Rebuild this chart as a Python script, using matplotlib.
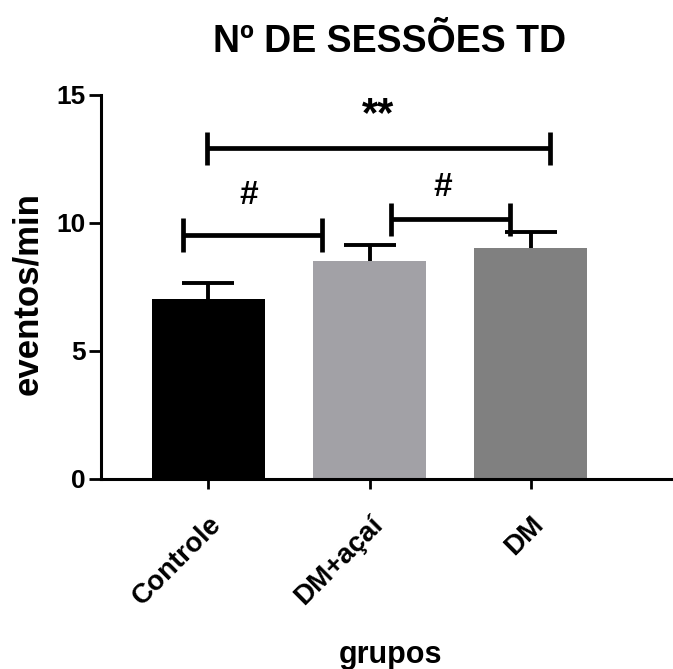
import numpy as np
import matplotlib
matplotlib.use("Agg")
from matplotlib import pyplot as plt
from matplotlib import font_manager
from matplotlib.transforms import ScaledTranslation

# dados
grupos = ["Controle", "DM+açaí", "DM"]
media = [7.03, 8.53, 9.04]
epm = [0.64, 0.61, 0.59]
cores = ["#000000", "#a2a1a6", "#808080"]

# comparações: (x inicial, x final, altura, rótulo, x do rótulo, y do rótulo)
comparacoes = [
    (-0.155, 0.707, 9.53, "#", 0.248, 11.09),
    (1.131, 1.872, 10.14, "#", 1.454, 11.39),
    (-0.01, 2.12, 12.92, "**", 1.051, 14.2),
]

nomes = {f.name for f in font_manager.fontManager.ttflist}
fonte = "Liberation Sans" if "Liberation Sans" in nomes else "DejaVu Sans"
fonte_titulo = "Liberation Sans Narrow" if "Liberation Sans Narrow" in nomes else fonte
plt.rcParams["font.family"] = [fonte, "DejaVu Sans"]
plt.rcParams["font.weight"] = "bold"

fig = plt.figure(figsize=(6.73, 6.69), dpi=100)
ax = fig.add_axes([101 / 673, 190 / 669, 1 - 101 / 673, 384 / 669])

x = np.arange(len(grupos))
ax.bar(x, media, width=0.70, color=cores, edgecolor="none", zorder=2)
eb = ax.errorbar(x, media, yerr=[np.zeros(len(epm)), epm], fmt="none",
                 ecolor="black", elinewidth=2.8, capsize=19, capthick=2.8, zorder=1)
eb[1][0].set_visible(False)  # só a barra de cima

for x0, x1, y, rot, xt, yt in comparacoes:
    ax.plot([x0, x1], [y, y], color="black", lw=3.4, solid_capstyle="butt")
    for xx in (x0, x1):
        ax.plot([xx, xx], [y - 0.65, y + 0.65], color="black", lw=3.4, solid_capstyle="butt")
    tam = 30 if rot == "**" else 24
    ax.text(xt, yt, rot, ha="center", va="center", fontsize=tam, fontweight="bold")

ax.set_xlim(-0.666, 2.883)
ax.set_ylim(0, 15)
ax.set_yticks([0, 5, 10, 15])
ax.set_xticks(x)
ax.set_xticklabels(grupos, rotation=45, ha="right", rotation_mode="anchor", fontsize=20)
desloc = ScaledTranslation(-5 / 72, 0, fig.dpi_scale_trans)
for lbl in ax.get_xticklabels():
    lbl.set_transform(lbl.get_transform() + desloc)
ax.tick_params(axis="y", labelsize=19, length=9, width=2, pad=2)
ax.tick_params(axis="x", length=7.5, width=2, pad=16)
for s in ["top", "right"]:
    ax.spines[s].set_visible(False)
for s in ["left", "bottom"]:
    ax.spines[s].set_linewidth(2.2)

fig.text(390 / 673, 1 - 42 / 669, "Nº DE SESSÕES TD", ha="center", va="center",
         fontsize=27, fontweight="bold", family=[fonte_titulo, "DejaVu Sans"])
fig.text(27.5 / 673, 1 - 293.5 / 669, "eventos/min", rotation=90, ha="center",
         va="center", fontsize=25, fontweight="bold")
fig.text(390 / 673, 1 - 655 / 669, "grupos", ha="center", va="center",
         fontsize=22, fontweight="bold")

fig.savefig("out.png", dpi=100)
